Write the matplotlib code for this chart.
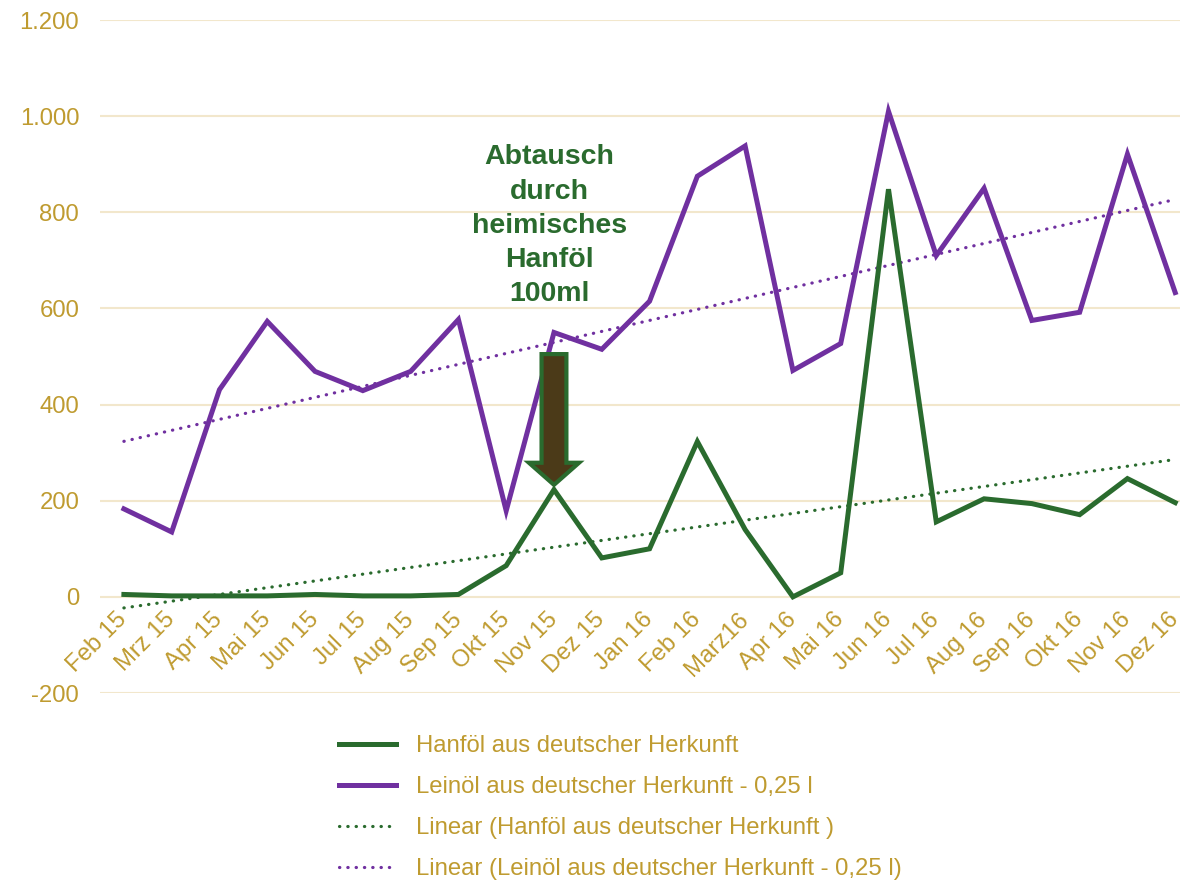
import matplotlib
matplotlib.use("Agg")
import matplotlib.pyplot as plt
import numpy as np
from matplotlib.patches import FancyArrow
from matplotlib.ticker import FuncFormatter

months = ["Feb 15", "Mrz 15", "Apr 15", "Mai 15", "Jun 15", "Jul 15", "Aug 15",
          "Sep 15", "Okt 15", "Nov 15", "Dez 15", "Jan 16", "Feb 16", "Marz16",
          "Apr 16", "Mai 16", "Jun 16", "Jul 16", "Aug 16", "Sep 16", "Okt 16",
          "Nov 16", "Dez 16"]
hanf = [5, 2, 2, 2, 5, 2, 2, 5, 65, 223, 81, 100, 323, 140, 0, 50, 848, 156,
        204, 194, 171, 246, 196]
lein = [183, 135, 431, 573, 469, 429, 469, 577, 179, 550, 515, 615, 875, 938,
        471, 527, 1010, 710, 850, 575, 592, 921, 633]
yticks = [-200, 0, 200, 400, 600, 800, 1000, 1200]

GREEN = "#2A6B2E"
PURPLE = "#7030A0"
GOLD = "#BF9B30"
GRID = "#F2E7CC"

plt.rcParams['font.family'] = ['Liberation Sans', 'DejaVu Sans']

fig = plt.figure(figsize=(11.82, 8.83), dpi=100)
ax = fig.add_axes([100/1182, 1-693/883, 1080/1182, (693-20)/883])

x = np.arange(len(months))
ax.set_ylim(-200, 1200)
ax.set_xlim(-0.5, 22.1)
ax.set_yticks(yticks)
ax.yaxis.set_major_formatter(FuncFormatter(lambda v, p: f"{int(v):,}".replace(",", ".")))
ax.grid(axis='y', color=GRID, lw=1.5)
ax.set_axisbelow(True)
for s in ax.spines.values():
    s.set_visible(False)
ax.spines['bottom'].set_position(('data', 0))
ax.tick_params(axis='both', length=0, colors=GOLD, labelsize=17.2)
ax.tick_params(axis='y', pad=15)
ax.set_xticks(x)
ax.set_xticklabels(months, rotation=45, ha='right', va='center', rotation_mode='anchor')
ax.tick_params(axis='x', pad=14)

# trend lines
zh = np.polyfit(x, hanf, 1)
zl = np.polyfit(x, lein, 1)
dots = (0, (0.1, 2.5))
lh, = ax.plot(x, hanf, color=GREEN, lw=3.6, solid_joinstyle='miter',
              label="Hanföl aus deutscher Herkunft", zorder=3)
ll, = ax.plot(x, lein, color=PURPLE, lw=3.6, solid_joinstyle='miter',
              label="Leinöl aus deutscher Herkunft - 0,25 l", zorder=3)
th, = ax.plot(x, np.polyval(zh, x), color=GREEN, lw=2.3, ls=dots,
              dash_capstyle='round', label="Linear (Hanföl aus deutscher Herkunft )", zorder=2)
tl, = ax.plot(x, np.polyval(zl, x), color=PURPLE, lw=2.3, ls=dots,
              dash_capstyle='round', label="Linear (Leinöl aus deutscher Herkunft - 0,25 l)", zorder=2)

# arrow
i = months.index("Nov 15")
start = 505
tip = hanf[i] + 10
arr = FancyArrow(i, start, 0, tip - start, width=0.52, head_width=1.05,
                 head_length=46, length_includes_head=True,
                 facecolor="#4B3A18", edgecolor=GREEN, lw=3, zorder=5)
ax.add_patch(arr)

ax.text(8.9, 772, "Abtausch\ndurch\nheimisches\nHanföl\n100ml", ha='center', va='center',
        fontsize=20.5, fontweight='bold', color=GREEN, linespacing=1.41, zorder=6)

leg = fig.legend(handles=[lh, ll, th, tl], loc='upper left',
                 bbox_to_anchor=(317/1182, 1-714/883), frameon=False,
                 fontsize=17.2, handlelength=2.4, handletextpad=0.85,
                 labelspacing=0.79, labelcolor=GOLD)

fig.savefig("out.png", dpi=100)
